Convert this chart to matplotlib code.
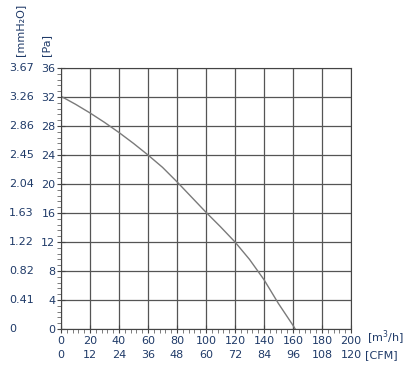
import matplotlib
matplotlib.use('Agg')
import matplotlib.pyplot as plt
from matplotlib.ticker import MultipleLocator
import matplotlib.transforms as mtransforms

# data
flow = [0, 10, 20, 30, 40, 50, 60, 70, 80, 90, 100, 110, 120, 130, 140, 150, 160, 161.5]
pressure = [32.1, 31.0, 29.8, 28.5, 27.1, 25.6, 24.0, 22.3, 20.3, 18.2, 16.1, 14.1, 12.0,
            9.6, 6.8, 3.5, 0.5, 0]

pa_ticks = [0, 4, 8, 12, 16, 20, 24, 28, 32, 36]
mmh2o_labels = ['0', '0.41', '0.82', '1.22', '1.63', '2.04', '2.45', '2.86', '3.26', '3.67']
m3h_ticks = [0, 20, 40, 60, 80, 100, 120, 140, 160, 180, 200]
cfm_labels = ['0', '12', '24', '36', '48', '60', '72', '84', '96', '108', '120']

txt = '#1f3a68'
grid = '#555555'

fig = plt.figure(figsize=(4.08, 3.66), dpi=100)
ax = fig.add_axes([61/408, 37/366, 290/408, 261/366])

ax.plot(flow, pressure, color='#7a7a7a', lw=1.0)

ax.set_xlim(0, 200)
ax.set_ylim(0, 36)
ax.set_xticks(m3h_ticks)
ax.set_yticks(pa_ticks)
ax.xaxis.set_minor_locator(MultipleLocator(4))
ax.yaxis.set_minor_locator(MultipleLocator(0.8))
ax.grid(True, which='major', color=grid, lw=0.9)
ax.tick_params(which='major', direction='inout', length=6, width=0.8, color='#444444',
               labelsize=8, labelcolor=txt, pad=1)
ax.tick_params(which='minor', direction='out', length=3, width=0.6, color='#666666')
ax.tick_params(axis='x', which='major', pad=2)
for s in ax.spines.values():
    s.set_color('#444444')
    s.set_linewidth(0.8)

# mmH2O column on the left
tr_y = mtransforms.blended_transform_factory(fig.transFigure, ax.transData)
for v, lab in zip(pa_ticks, mmh2o_labels):
    ax.text(9/408, v, lab, transform=tr_y, ha='left', va='center', fontsize=8, color=txt)

# CFM row below
tr_x = mtransforms.blended_transform_factory(ax.transData, fig.transFigure)
for v, lab in zip(m3h_ticks, cfm_labels):
    ax.text(v, 1 - 355/366, lab, transform=tr_x, ha='center', va='center', fontsize=8, color=txt)

fig.text(367/408, 1 - 338/366, '[m$^3$/h]', ha='left', va='center', fontsize=8, color=txt)
fig.text(365/408, 1 - 355/366, '[CFM]', ha='left', va='center', fontsize=8, color=txt)
fig.text(20/408, 1 - 56/366, '[mmH\u2082O]', rotation=90, ha='center', va='bottom', fontsize=8, color=txt)
fig.text(46/408, 1 - 56/366, '[Pa]', rotation=90, ha='center', va='bottom', fontsize=8, color=txt)

fig.savefig('out.png', dpi=100, facecolor='white')
